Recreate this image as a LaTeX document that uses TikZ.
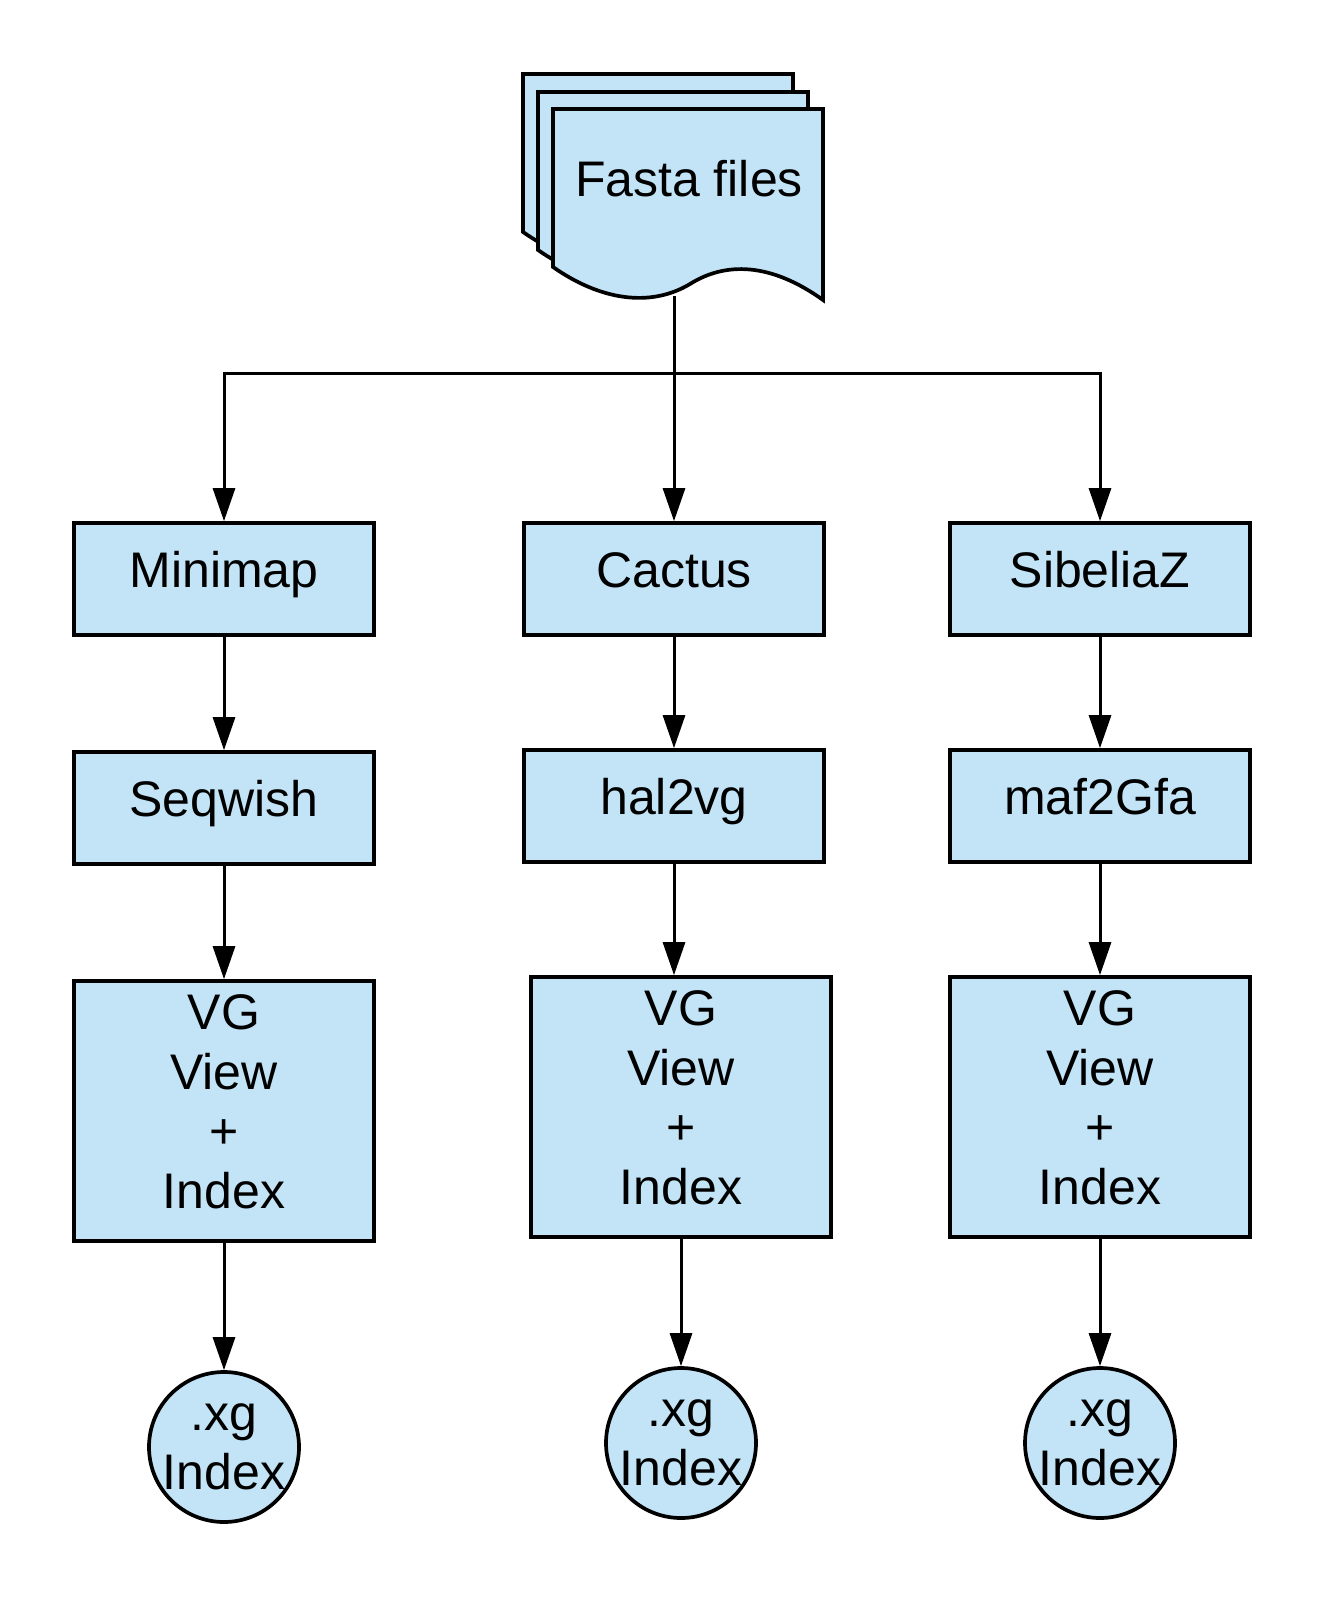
\documentclass[tikz,border=0pt]{standalone}
\usepackage{fontspec}
\setmainfont{Liberation Sans}
\usetikzlibrary{positioning,arrows.meta}
\definecolor{boxblue}{RGB}{194,228,246}
\newcommand{\lowstrut}{\rule[-0.37em]{0pt}{0.72em}}

\begin{document}
\begin{tikzpicture}
  [
    x=0.5pt, y=-0.5pt,
    >={Triangle[length=16.5pt,width=11pt]},
    every node/.style = {font=\fontsize{25pt}{29.75pt}\selectfont},
    tool/.style   = {draw, fill=boxblue, line width=1.85pt, minimum width=150pt,
                     minimum height=56pt, inner sep=0pt, align=center},
    viewer/.style = {tool, minimum height=130pt},
    result/.style = {draw, fill=boxblue, circle, line width=1.85pt,
                     minimum size=75pt, inner sep=0pt, align=center},
    flow/.style   = {->, line width=1.5pt},
  ]
  \useasboundingbox (0,0) rectangle (1326,1598);

  % stacked pages, back to front
  \foreach \dx/\dy in {30/35, 15/17, 0/0}
    \draw[fill=boxblue, line width=1.85pt, shift={(-\dx,-\dy)}]
      (553,109) -- (823,109) -- (823,300)
      .. controls (770,262) and (725,262) .. (690,284)
      .. controls (650,308) and (600,300) .. (553,267) -- cycle;
  \node (fasta) at (689,179) {Fasta files};
  \coordinate (fastabot) at (674,296);
  \coordinate (split) at (674,374);

  % tools
  \node (minimap) at (224,579)  [tool] {Minimap\lowstrut};
  \node (cactus)  at (674,579)  [tool] {Cactus\lowstrut};
  \node (sibelia) at (1100,579) [tool] {SibeliaZ\lowstrut};

  % converters
  \node (seqwish) at (224,808)  [tool] {Seqwish\lowstrut};
  \node (hal)     at (674,806)  [tool] {hal2vg\lowstrut};
  \node (maf)     at (1100,806) [tool] {maf2Gfa\lowstrut};

  % vg view + index
  \node (vgA) at (224,1111) [viewer] {VG\\View\\+\\Index\lowstrut};
  \node (vgB) at (681,1107) [viewer] {VG\\View\\+\\Index\lowstrut};
  \node (vgC) at (1100,1107) [viewer] {VG\\View\\+\\Index\lowstrut};

  % xg indexes
  \node (xgA) at (224,1447) [result] {.xg\\Index};
  \node (xgB) at (681,1443) [result] {.xg\\Index};
  \node (xgC) at (1100,1443) [result] {.xg\\Index};

  % connectors
  \draw[flow] (fastabot) -- (cactus);
  \draw[flow] (split) -| (minimap.north);
  \draw[flow] (split) -| (sibelia.north);
  \foreach \from/\to in {minimap/seqwish, cactus/hal, sibelia/maf,
                         seqwish/vgA, maf/vgC, vgA/xgA, vgB/xgB, vgC/xgC}
    \draw[flow] (\from) -- (\to);
  \draw[flow] (hal.south) -- (hal.south |- vgB.north);
\end{tikzpicture}
\end{document}
